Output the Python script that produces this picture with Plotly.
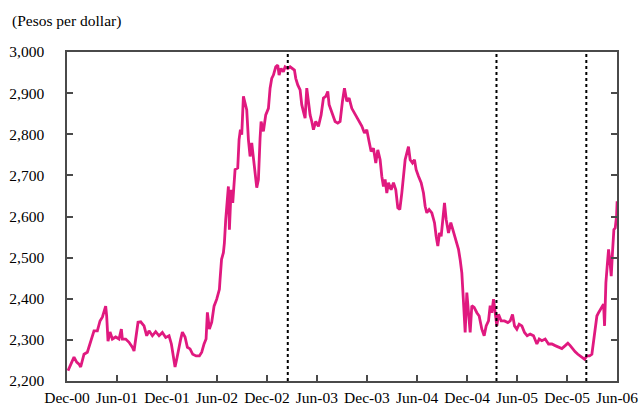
import numpy as np
import pandas as pd
import plotly.graph_objects as go

# Months elapsed since 1 Dec 2000 and exchange rate (pesos per dollar)
months = [0.12, 0.44, 0.84, 1.16, 1.44, 1.64, 2.04, 2.44, 2.84, 3.24, 3.64, 3.96, 4.24, 4.44, 4.64, 4.76,
          4.92, 5.16, 5.44, 5.84, 6.24, 6.52, 6.64, 7.04, 7.44, 7.84, 8.04, 8.24, 8.52, 8.84, 9.24, 9.56,
          9.84, 10.24, 10.64, 11.04, 11.44, 11.84, 12.24, 12.52, 12.76, 12.96, 13.16, 13.36, 13.64, 13.84,
          14.16, 14.44, 14.76, 15.08, 15.48, 15.88, 16.16, 16.44, 16.68, 16.84, 17.08, 17.36, 17.64, 17.96,
          18.28, 18.36, 18.54, 18.76, 18.88, 19.04, 19.2, 19.36, 19.48, 19.68, 19.88, 20.04, 20.16, 20.48,
          20.64, 20.8, 20.96, 21.16, 21.36, 21.56, 21.76, 21.96, 22.16, 22.36, 22.56, 22.76, 22.96, 23.04,
          23.16, 23.28, 23.56, 23.84, 24.16, 24.36, 24.56, 24.76, 25.04, 25.28, 25.44, 25.68, 25.96, 26.16,
          26.48, 26.76, 27.04, 27.28, 27.44, 27.68, 27.96, 28.16, 28.36, 28.56, 28.76, 28.96, 29.16, 29.36,
          29.56, 29.84, 30.16, 30.48, 30.76, 31.04, 31.28, 31.44, 31.68, 31.96, 32.16, 32.48, 32.76, 33.04,
          33.28, 33.56, 33.84, 34.16, 34.48, 34.76, 35.04, 35.36, 35.68, 35.96, 36.24, 36.48, 36.76, 37.04,
          37.28, 37.56, 37.76, 37.96, 38.16, 38.36, 38.56, 38.88, 39.16, 39.44, 39.68, 39.92, 40.16, 40.36,
          40.56, 40.76, 40.96, 41.16, 41.44, 41.68, 41.88, 42.16, 42.48, 42.76, 42.96, 43.16, 43.44, 43.76,
          44.08, 44.28, 44.48, 44.68, 44.88, 45.12, 45.28, 45.48, 45.76, 46.04, 46.28, 46.48, 46.76, 46.96,
          47.16, 47.36, 47.56, 47.76, 47.96, 48.16, 48.36, 48.56, 48.84, 49.16, 49.44, 49.76, 50.04, 50.28,
          50.56, 50.76, 50.96, 51.16, 51.36, 51.56, 51.76, 52.08, 52.48, 52.88, 53.16, 53.44, 53.68, 53.96,
          54.24, 54.56, 54.88, 55.2, 55.56, 55.96, 56.36, 56.64, 56.96, 57.36, 57.76, 58.16, 58.56, 58.96,
          59.36, 59.76, 60.08, 60.36, 60.64, 60.96, 61.28, 61.56, 61.84, 62.08, 62.36, 62.68, 62.96, 63.16,
          63.36, 63.56, 63.76, 63.96, 64.16, 64.36, 64.48, 64.64, 64.8, 64.96, 65.12, 65.28, 65.44, 65.6,
          65.76, 65.92, 65.99]
rate = [2225, 2241, 2258, 2246, 2241, 2234, 2265, 2270, 2294, 2322, 2322, 2346, 2355, 2367, 2382, 2358,
        2297, 2319, 2302, 2307, 2302, 2326, 2302, 2302, 2294, 2282, 2273, 2302, 2343, 2344, 2334, 2310,
        2322, 2310, 2320, 2310, 2318, 2306, 2310, 2290, 2261, 2234, 2253, 2278, 2302, 2319,
        2307, 2282, 2278, 2265, 2261, 2261, 2270, 2290, 2302, 2367, 2326, 2343, 2382, 2399,
        2423, 2447, 2496, 2512, 2536, 2593, 2641, 2673, 2568, 2665, 2633, 2673, 2714, 2718,
        2787, 2811, 2799, 2892, 2876, 2859, 2787, 2746, 2779, 2738, 2706, 2670, 2690, 2760,
        2791, 2831, 2807, 2847, 2863, 2912, 2936, 2944, 2964, 2968, 2944, 2960, 2952, 2964,
        2960, 2964, 2960, 2956, 2936, 2920, 2908, 2872, 2855, 2839, 2912, 2872, 2847, 2831,
        2811, 2831, 2819, 2847, 2888, 2892, 2904, 2872, 2859, 2847, 2831, 2827, 2831, 2880,
        2912, 2880, 2888, 2863, 2851, 2839, 2831, 2820, 2803, 2811, 2782, 2758, 2766, 2730,
        2762, 2738, 2698, 2673, 2690, 2657, 2682, 2665, 2682, 2665, 2621, 2617, 2657, 2706,
        2738, 2754, 2770, 2738, 2730, 2738, 2714, 2698, 2682, 2657, 2625, 2609, 2617, 2609,
        2585, 2552, 2528, 2560, 2552, 2601, 2633, 2593, 2560, 2585, 2568, 2552, 2536, 2520,
        2495, 2463, 2391, 2318, 2415, 2358, 2318, 2383, 2379, 2366, 2358, 2326, 2310, 2334,
        2346, 2383, 2366, 2399, 2366, 2334, 2362, 2346, 2346, 2342, 2346, 2362, 2334, 2326,
        2338, 2334, 2318, 2310, 2314, 2310, 2290, 2302, 2298, 2302, 2290, 2290, 2286, 2282,
        2279, 2286, 2292, 2286, 2278, 2271, 2265, 2261, 2257, 2253, 2261, 2261, 2265, 2294,
        2318, 2358, 2366, 2374, 2383, 2387, 2334, 2439, 2480, 2520, 2492, 2455, 2516, 2568,
        2572, 2601, 2637]

tick_dates = ["2000-12-01", "2001-06-01", "2001-12-01", "2002-06-01", "2002-12-01", "2003-06-01",
              "2003-12-01", "2004-06-01", "2004-12-01", "2005-06-01", "2005-12-01", "2006-06-01"]
tick_labels = ["Dec-00", "Jun-01", "Dec-01", "Jun-02", "Dec-02", "Jun-03",
               "Dec-03", "Jun-04", "Dec-04", "Jun-05", "Dec-05", "Jun-06"]
event_dates = ["2003-02-15", "2005-03-18", "2006-02-09"]
y_ticks = [2200, 2300, 2400, 2500, 2600, 2700, 2800, 2900, 3000]

dates = pd.Timestamp("2000-12-01") + pd.to_timedelta(np.array(months) * 30.436875, unit="D")

FONT = "Liberation Serif"
AX = "#4a4a4a"

fig = go.Figure()
fig.add_trace(go.Scatter(x=dates, y=rate, mode="lines",
                         line=dict(color="#E0197F", width=2.8), showlegend=False))

for d in event_dates:
    fig.add_shape(type="line", xref="x", yref="paper", x0=d, x1=d, y0=0, y1=1,
                  line=dict(color="black", width=2, dash="dot"))

fig.add_annotation(text="(Pesos per dollar)", xref="paper", yref="paper",
                   x=(10 - 67) / 550, y=(381 - 21) / 329, xanchor="left", yanchor="middle",
                   showarrow=False, font=dict(family=FONT, size=15.5, color="black"))

fig.update_layout(
    width=639, height=408,
    margin=dict(l=67, r=22, t=52, b=27, autoexpand=False),
    paper_bgcolor="white", plot_bgcolor="white",
    font=dict(family=FONT, size=15.5, color="black"),
    xaxis=dict(type="date", range=["2000-12-01", "2006-06-01"],
               tickvals=tick_dates, ticktext=tick_labels, automargin=False,
               showgrid=False, zeroline=False,
               showline=True, linecolor=AX, linewidth=1.5, mirror=True,
               ticks="inside", ticklen=6, tickcolor=AX, tickwidth=1.5,
               ticklabelstandoff=2, tickangle=0,
               tickfont=dict(family=FONT, size=15.5, color="black")),
    yaxis=dict(range=[2200, 3000], tickvals=y_ticks, tickformat=",", automargin=False,
               showgrid=False, zeroline=False,
               showline=True, linecolor=AX, linewidth=1.5, mirror="ticks",
               ticks="inside", ticklen=6, tickcolor=AX, tickwidth=1.5,
               ticklabelstandoff=18,
               tickfont=dict(family=FONT, size=15.5, color="black")),
)

fig.write_html("out.html", config={"displayModeBar": False},
               post_script="document.body.style.margin='0px';")
